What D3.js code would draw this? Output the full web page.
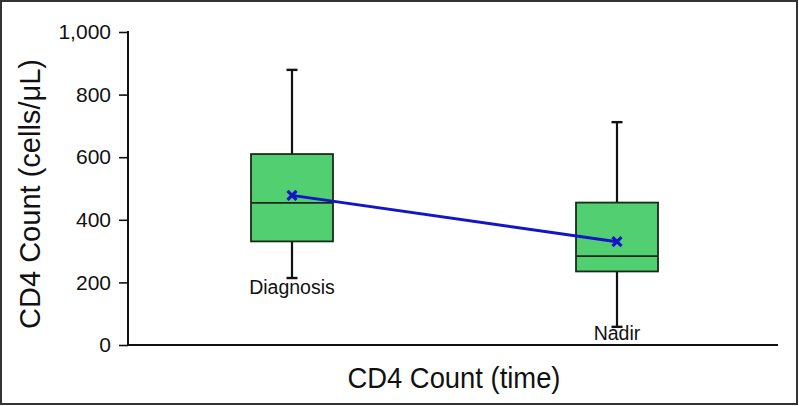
<!DOCTYPE html>
<html><head><meta charset="utf-8">
<script src="https://cdn.jsdelivr.net/npm/d3@7"></script>
<style>
html,body{margin:0;padding:0;background:#fff;}
svg{display:block;}
text{font-family:"Liberation Sans",Arial,sans-serif;fill:#111;}
</style></head>
<body>
<svg id="chart" width="799" height="406"></svg>
<script>
const categories = ["Diagnosis", "Nadir"];
const whiskerLow = [214, 58];
const q1 = [331, 235];
const median = [454, 284];
const q3 = [610, 455];
const whiskerHigh = [879, 712];
const means = [478, 330];
const yTicks = [0, 200, 400, 600, 800, 1000];

const svg = d3.select("#chart");
const W = 799, H = 406;
svg.append("rect").attr("x",1).attr("y",1).attr("width",W-3).attr("height",H-3)
  .attr("fill","#fff").attr("stroke","#333").attr("stroke-width",2);

const m = {left:128, right:778, top:32, bottom:345};
const y = d3.scaleLinear().domain([0,1000]).range([m.bottom, m.top]);
const x = d3.scalePoint().domain(categories).range([292, 617]);

// y axis
const yAxis = svg.append("g").attr("transform",`translate(${m.left},0)`)
  .call(d3.axisLeft(y).tickValues(yTicks).tickSize(9).tickPadding(8).tickFormat(d3.format(",")));
yAxis.select(".domain").remove();
yAxis.selectAll(".tick line").attr("stroke","#111").attr("stroke-width",1.6);
yAxis.selectAll(".tick text").style("font-size","21px").attr("fill","#111");
svg.append("line").attr("x1",m.left).attr("x2",m.left).attr("y1",y(1000)-1).attr("y2",m.bottom+1)
  .attr("stroke","#111").attr("stroke-width",2);
// x axis line
svg.append("line").attr("x1",m.left-1).attr("x2",m.right).attr("y1",m.bottom).attr("y2",m.bottom)
  .attr("stroke","#111").attr("stroke-width",2.2);

// titles
svg.append("text").attr("transform",`translate(40,${(58+330)/2}) rotate(-90)`)
  .attr("text-anchor","middle").style("font-size","29px")
  .attr("textLength",270).attr("lengthAdjust","spacingAndGlyphs").text("CD4 Count (cells/μL)");
svg.append("text").attr("x",454).attr("y",388).attr("text-anchor","middle")
  .style("font-size","29px").attr("textLength",213).attr("lengthAdjust","spacingAndGlyphs")
  .text("CD4 Count (time)");

const boxW = 82, capW = 10;
const g = svg.append("g");
categories.forEach((c,i)=>{
  const cx = x(c);
  g.append("line").attr("x1",cx).attr("x2",cx).attr("y1",y(whiskerHigh[i])).attr("y2",y(q3[i]))
    .attr("stroke","#111").attr("stroke-width",2.2);
  g.append("line").attr("x1",cx).attr("x2",cx).attr("y1",y(q1[i])).attr("y2",y(whiskerLow[i]))
    .attr("stroke","#111").attr("stroke-width",2.2);
  [whiskerHigh[i], whiskerLow[i]].forEach(v=>{
    g.append("line").attr("x1",cx-capW/2-0.5).attr("x2",cx+capW/2+0.5).attr("y1",y(v)).attr("y2",y(v))
      .attr("stroke","#111").attr("stroke-width",2.4);
  });
  g.append("rect").attr("x",cx-boxW/2).attr("y",y(q3[i])).attr("width",boxW)
    .attr("height",y(q1[i])-y(q3[i])).attr("fill","#52cf70").attr("stroke","#1a2a1a").attr("stroke-width",1.8);
  g.append("line").attr("x1",cx-boxW/2).attr("x2",cx+boxW/2).attr("y1",y(median[i])).attr("y2",y(median[i]))
    .attr("stroke","#1a2a1a").attr("stroke-width",1.8);
});

// category labels
svg.append("text").attr("x",x("Diagnosis")).attr("y",294).attr("text-anchor","middle")
  .style("font-size","19.5px").text("Diagnosis");
svg.append("text").attr("x",x("Nadir")).attr("y",340).attr("text-anchor","middle")
  .style("font-size","19.5px").text("Nadir");

// mean line
const line = d3.line().x((d,i)=>x(categories[i])).y(d=>y(d));
svg.append("path").datum(means).attr("d",line).attr("fill","none")
  .attr("stroke","#1414c8").attr("stroke-width",3);
const s = 4.5;
means.forEach((v,i)=>{
  const cx = x(categories[i]), cy = y(v);
  svg.append("path").attr("d",`M${cx-s},${cy-s}L${cx+s},${cy+s}M${cx-s},${cy+s}L${cx+s},${cy-s}`)
    .attr("stroke","#1414c8").attr("stroke-width",3.2).attr("fill","none");
});
</script>
</body></html>
